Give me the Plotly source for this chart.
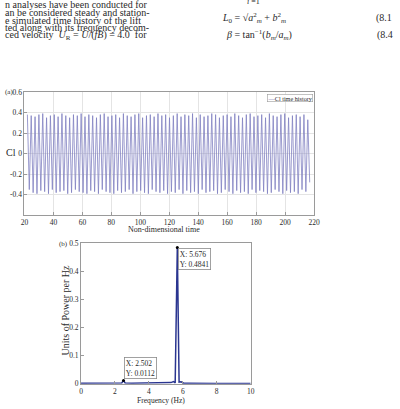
import numpy as np
import plotly.graph_objects as go

# ---------------- data ----------------
# (a) Cl time history: successive crest and trough values
cl_peaks = [0.38, 0.37, 0.36, 0.38, 0.39, 0.35, 0.37, 0.38, 0.36, 0.39,
            0.37, 0.35, 0.38, 0.37, 0.39, 0.36, 0.38, 0.37, 0.35, 0.38,
            0.39, 0.36, 0.37, 0.38, 0.35, 0.39, 0.37, 0.36, 0.38, 0.39,
            0.35, 0.37, 0.38, 0.36, 0.39, 0.37, 0.38, 0.35, 0.37, 0.39,
            0.36, 0.38, 0.37, 0.39, 0.35, 0.38, 0.36, 0.37, 0.39, 0.38,
            0.35, 0.37, 0.38, 0.36, 0.39, 0.37, 0.35, 0.38, 0.39, 0.36,
            0.37, 0.38, 0.35, 0.39, 0.37, 0.36, 0.38, 0.39, 0.35, 0.37,
            0.38, 0.36, 0.38, 0.33]
cl_troughs = [-0.35, -0.38, -0.39, -0.36, -0.37, -0.39, -0.35, -0.38, -0.37, -0.36,
              -0.39, -0.38, -0.35, -0.37, -0.38, -0.39, -0.36, -0.37, -0.39, -0.35,
              -0.37, -0.38, -0.39, -0.36, -0.38, -0.37, -0.35, -0.39, -0.37, -0.36,
              -0.38, -0.39, -0.35, -0.37, -0.38, -0.36, -0.39, -0.37, -0.38, -0.35,
              -0.39, -0.36, -0.38, -0.37, -0.39, -0.35, -0.38, -0.37, -0.36, -0.39,
              -0.38, -0.35, -0.37, -0.39, -0.36, -0.38, -0.37, -0.39, -0.35, -0.38,
              -0.36, -0.37, -0.39, -0.38, -0.35, -0.37, -0.39, -0.36, -0.38, -0.37,
              -0.39, -0.35, -0.37, -0.28]
t_start, t_end = 22.0, 217.0

# (b) power spectrum
freq = [0, 0.5, 1, 1.5, 2, 2.4, 2.502, 2.6, 3, 3.5, 4, 4.5, 5, 5.3, 5.45, 5.55,
        5.676, 5.78, 5.9, 6.05, 6.3, 7, 8, 9, 10]
power = [0.002, 0.002, 0.002, 0.002, 0.002, 0.003, 0.0112, 0.003, 0.002, 0.002,
         0.002, 0.002, 0.002, 0.004, 0.008, 0.003, 0.4841, 0.006, 0.007, 0.002,
         0.002, 0.001, 0.001, 0.001, 0.001]
tip_x = [5.676, 2.502]
tip_y = [0.4841, 0.0112]

xticks_a = [20, 40, 60, 80, 100, 120, 140, 160, 180, 200, 220]
yticks_a = [-0.4, -0.2, 0, 0.2, 0.4, 0.6]
xticks_b = [0, 2, 4, 6, 8, 10]
yticks_b = [0, 0.1, 0.2, 0.3, 0.4, 0.5]

# ---------------- build ----------------
cl = []
for p, q in zip(cl_peaks, cl_troughs):
    cl.extend([p, q])
t = np.linspace(t_start, t_end, len(cl))

W, H = 400, 409
SERIF = "Times New Roman, Liberation Serif, serif"
TXT = "#2a2a2a"

def px(xp):
    return xp / W

def py(yp):
    return 1 - yp / H

fig = go.Figure()
fig.add_trace(go.Scatter(x=t, y=cl, mode="lines", name="Cl time history",
                         line=dict(color="#8282c2", width=0.8),
                         xaxis="x", yaxis="y", showlegend=False))
fig.add_trace(go.Scatter(x=freq, y=power, mode="lines",
                         line=dict(color="#2a3590", width=1.5),
                         xaxis="x2", yaxis="y2", showlegend=False))
fig.add_trace(go.Scatter(x=tip_x, y=tip_y, mode="markers",
                         marker=dict(color="black", size=3),
                         xaxis="x2", yaxis="y2", showlegend=False))

axcommon = dict(showline=True, linecolor="#9a9a9a", linewidth=1, mirror=True,
                ticks="inside", ticklen=3, tickcolor="#9a9a9a", zeroline=False,
                tickfont=dict(family=SERIF, size=7.5, color=TXT))

fig.update_layout(
    width=W, height=H, margin=dict(l=0, r=0, t=0, b=0),
    paper_bgcolor="white", plot_bgcolor="white",
    font=dict(family=SERIF, color=TXT),
    xaxis=dict(domain=[px(21), px(318)], anchor="y", range=[20, 220],
               tickvals=xticks_a, showgrid=True, gridcolor="#e4e4e4", **axcommon),
    yaxis=dict(domain=[py(216), py(90)], anchor="x", range=[-0.6, 0.6],
               tickvals=yticks_a, ticktext=[f"{v:g}" for v in yticks_a],
               showgrid=True, gridcolor="#e4e4e4", **axcommon),
    xaxis2=dict(domain=[px(79), px(253)], anchor="y2", range=[0, 10],
                tickvals=xticks_b, showgrid=False, **axcommon),
    yaxis2=dict(domain=[py(388.3), py(244.3)], anchor="x2", range=[0, 0.5],
                tickvals=yticks_b, ticktext=[f"{v:g}" for v in yticks_b],
                showgrid=False, **axcommon),
)

ann = []
def note(x, y, text, size=9, xanchor="left", yanchor="middle", **kw):
    ann.append(dict(x=px(x), y=py(y), xref="paper", yref="paper", text=text,
                    showarrow=False, xanchor=xanchor, yanchor=yanchor,
                    font=dict(family=SERIF, size=size, color=TXT), **kw))

# page text above the figure
PS = 10
note(-1, 0.5, "n analyses have been conducted for", PS)
note(-1, 8.5, "an be considered steady and station-", PS)
note(-1, 16.5, "e simulated time history of the lift", PS)
note(-1, 24.5, "ted along with its frequency decom-", PS)
note(-1, 32.5, "ced velocity  <i>U</i><sub>R</sub> = <i>U</i>/(<i>fB</i>) = 4.0  for", PS)
note(247, -3, "<i>i</i> =1", 8)
note(222, 14, "<i>L</i><sub>0</sub> = √<i>a</i><sup>2</sup><sub><i>m</i></sub> + <i>b</i><sup>2</sup><sub><i>m</i></sub>", PS)
note(379, 14, "(8.1", PS)
note(226, 32, "<i>β</i> = tan<sup>−1</sup>(<i>b</i><sub><i>m</i></sub>/<i>a</i><sub><i>m</i></sub>)", PS)
note(381, 32, "(8.4", PS)

# panel (a)
note(-1, 90, "(a)", 7)
note(7, 152, "Cl", 10, xanchor="center")
note(164, 231, "Non-dimensional time", 8, xanchor="center")
note(317, 96, "<span style='color:#6464ae'>—</span>Cl time history", 6.2,
     xanchor="right", bordercolor="#9a9a9a", borderwidth=0.6, borderpad=0,
     bgcolor="white")

# panel (b)
note(54, 245, "(b)", 7)
note(63, 313, "Units of Power per Hz", 10, xanchor="center", textangle=-90)
note(161, 405, "Frequency (Hz)", 7.6, xanchor="center")

fig.update_layout(annotations=ann)

# data tips in panel (b)
fig.add_annotation(x=tip_x[0], y=tip_y[0], xref="x2", yref="y2",
                   text="X: 5.676<br>Y: 0.4841", showarrow=False, align="left",
                   xanchor="left", yanchor="top", xshift=1, yshift=-1,
                   font=dict(family=SERIF, size=7.5, color=TXT),
                   bgcolor="white", bordercolor="#8a8a8a", borderwidth=0.8, borderpad=1)
fig.add_annotation(x=tip_x[1], y=tip_y[1], xref="x2", yref="y2",
                   text="X: 2.502<br>Y: 0.0112", showarrow=False, align="left",
                   xanchor="left", yanchor="bottom", xshift=1, yshift=2,
                   font=dict(family=SERIF, size=7.5, color=TXT),
                   bgcolor="white", bordercolor="#8a8a8a", borderwidth=0.8, borderpad=1)

fig.write_html("out.html")
